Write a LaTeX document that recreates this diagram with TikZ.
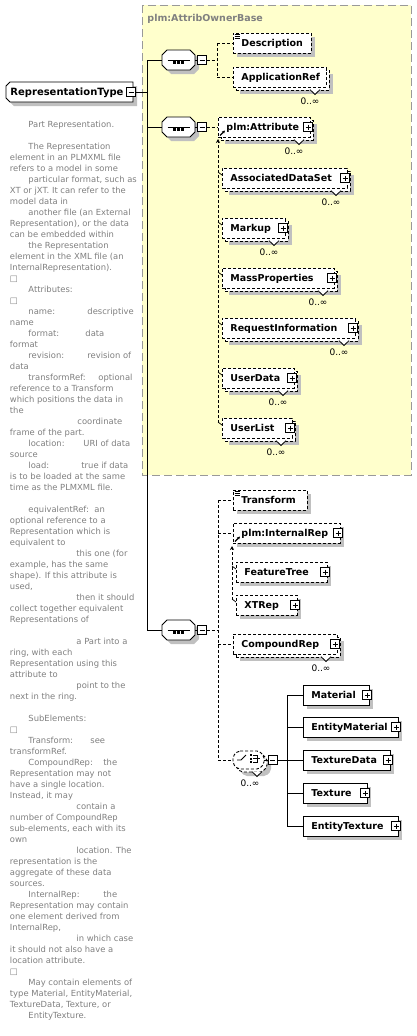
\documentclass[tikz,border=0pt]{standalone}
\usepackage{fontspec}
\newfontfamily\dv{DejaVu Sans}
\usetikzlibrary{shadows,arrows.meta}
\definecolor{yfill}{HTML}{FFFFCC}
\definecolor{yborder}{HTML}{999999}
\definecolor{shadowc}{HTML}{C0C0C0}
\definecolor{desccol}{HTML}{808080}
\tikzset{
 sh/.style={drop shadow={shadow xshift=4pt,shadow yshift=-4pt,fill=shadowc,draw=none,opacity=1}},
 boxbase/.style={rectangle,fill=white,inner sep=0pt,outer sep=0pt,minimum height=20pt,line width=0.9pt},
 elsolid/.style={boxbase,draw=black},
 eldash/.style={boxbase,draw=black,dash pattern=on 3pt off 2pt},
 dl/.style={dash pattern=on 3pt off 2pt},
 eltext/.style={font=\dv\bfseries\fontsize{9.5}{10}\selectfont,inner sep=0pt,anchor=base west},
 mult/.style={font=\dv\fontsize{9}{10}\selectfont,inner sep=0pt},
 desc/.style={font=\dv\fontsize{8.4}{9}\selectfont,text=desccol,anchor=base west,inner sep=0pt},
 minusbox/.style={draw,fill=white,minimum size=9pt,inner sep=0pt,outer sep=0pt,line width=0.8pt,
   path picture={\draw[line width=0.8pt] ([xshift=2pt]path picture bounding box.west) -- ([xshift=-2pt]path picture bounding box.east);}},
 plusbox/.style={draw,fill=white,minimum size=9pt,inner sep=0pt,outer sep=0pt,line width=0.8pt,
   path picture={\draw[line width=0.8pt] ([xshift=2pt]path picture bounding box.west) -- ([xshift=-2pt]path picture bounding box.east)
     ([yshift=-2pt]path picture bounding box.north) -- ([yshift=2pt]path picture bounding box.south);}},
 frame/.style={rectangle,inner sep=0pt,outer sep=0pt},
 shcanvas/.style={fill=shadowc,draw=none,transform canvas={shift={(4pt,-4pt)}}},
}
% single element: name,left,cy,right,label,style
\newcommand\el[6]{%
 \node[#6,sh,minimum width={(#4)-(#2)},anchor=west] (#1) at (#2,#3) {};
 \node[eltext] (#1-t) at ({#2+8},{#3+3.5}) {#5};}
% multiple element
\newcommand\elm[6]{%
 \node[#6,sh,minimum width={(#4)-(#2)},anchor=west] (#1-b) at ({#2+3},{#3+3}) {};
 \filldraw[fill=white,line width=0.8pt] ({#4-16},{#3+12.6}) -- ({#4-11},{#3+17.5}) -- ({#4-6},{#3+12.6});
 \node[#6,minimum width={(#4)-(#2)},anchor=west] (#1) at (#2,#3) {};
 \node[eltext] (#1-t) at ({#2+8},{#3+3.5}) {#5};
 \node[mult] (#1-n) at ({#4-16},{#3+24}) {0..∞};}
\newcommand\pl[3]{\node[plusbox] (#1) at ({#2-2},#3) {};}
\newcommand\dsc[4]{\node[desc] (#1) at (#2,{127+11*#3}) {#4};}
% octagon outline through the anchors of a frame node
\newcommand\octpath[2]{([xshift=#2]#1.north west) -- ([xshift=-#2]#1.north east) -- ([yshift=-#2]#1.north east) -- ([yshift=#2]#1.south east) -- ([xshift=-#2]#1.south east) -- ([xshift=#2]#1.south west) -- ([yshift=#2]#1.south west) -- ([yshift=-#2]#1.north west) -- cycle}
\newcommand\seqicon[1]{%
 \draw[line width=0.9pt] ([xshift=-11pt]#1.center) -- ([xshift=11pt]#1.center);
 \foreach \dx in {-4,0,4} \fill ([shift={(\dx pt-1.3pt,-1.3pt)}]#1.center) rectangle ++(2.6,2.6);}
\newcommand\seqnode[2]{% name, position
 \node[frame,minimum width=33pt,minimum height=20pt] (#1) at (#2) {};
 \fill[shcanvas] \octpath{#1}{5pt};
 \draw[fill=white,line width=0.9pt] \octpath{#1}{5pt};
 \seqicon{#1}}
\newcommand\simpleicon[2]{%
 \foreach \dy in {1.5,3.5,5.5} \draw[line width=0.6pt] ({#1+1.5},{#2+\dy}) -- ({#1+7},{#2+\dy});}
\begin{document}
\begin{tikzpicture}[x=1pt,y=-1pt,line width=0.9pt]
\fill[white] (0,0) rectangle (417,1036);
\path[use as bounding box] (0,0) rectangle (417,1036);
% base type box
\draw[fill=yfill,draw=yborder,dash pattern=on 8pt off 4pt,line width=1pt] (142,5) rectangle (411,475);
\node[font=\dv\bfseries\fontsize{9.5}{10}\selectfont,text=desccol,anchor=base west,inner sep=0pt] (base) at (147,21.5) {plm:AttribOwnerBase};

% root
\node[frame,minimum width=127pt,minimum height=20pt] (rt) at (69.5,92) {};
\fill[shcanvas] ([xshift=4pt]rt.north west) -- (rt.north east) -- (rt.south east) -- ([xshift=4pt]rt.south west) -- ([yshift=4pt]rt.south west) -- ([yshift=-4pt]rt.north west) -- cycle;
\draw[fill=white] ([xshift=4pt]rt.north west) -- (rt.north east) -- (rt.south east) -- ([xshift=4pt]rt.south west) -- ([yshift=4pt]rt.south west) -- ([yshift=-4pt]rt.north west) -- cycle;
\node[font=\dv\bfseries\fontsize{10}{11}\selectfont,anchor=base west,inner sep=0pt] (rt-t) at (10,95.8) {RepresentationType};
\node[minusbox] (rtm) at (131,92) {};

% sequences
\seqnode{s1}{178.5,60}
\node[minusbox] (s1m) at (202,60) {};
\seqnode{s2}{178.5,127}
\node[minusbox] (s2m) at (202,127) {};
\seqnode{s3}{178.5,630}
\node[minusbox] (s3m) at (202,630) {};

% seq1 children
\el{de}{233}{43}{311}{Description}{eldash}
\simpleicon{233}{33}
\elm{ar}{233}{77}{326}{ApplicationRef}{eldash}

% seq2 child and substitution group
\elm{ads}{222}{178}{347}{AssociatedDataSet}{eldash} \pl{ads-p}{347}{178}
\elm{mk}{222}{228}{285}{Markup}{eldash} \pl{mk-p}{285}{228}
\elm{mp}{222}{278}{334}{MassProperties}{eldash} \pl{mp-p}{334}{278}
\elm{ri}{222}{328}{355}{RequestInformation}{eldash} \pl{ri-p}{355}{328}
\elm{ud}{222}{378}{294}{UserData}{eldash} \pl{ud-p}{294}{378}
\elm{ul}{222}{428}{292}{UserList}{eldash} \pl{ul-p}{292}{428}
\elm{at}{218}{127}{310}{plm:Attribute}{eldash} \pl{at-p}{310}{127}
\draw[-{Stealth[length=3pt,width=3pt]},line width=1.1pt] (220,135.5) -- (225,130.5);

% seq3 children
\el{tr}{233}{500}{307}{Transform}{eldash}
\simpleicon{233}{490}
\el{ft}{236}{572}{327}{FeatureTree}{eldash} \pl{ft-p}{327}{572}
\el{xt}{236}{605}{297}{XTRep}{eldash} \pl{xt-p}{297}{605}
\el{ir}{233}{533}{340}{plm:InternalRep}{eldash} \pl{ir-p}{340}{533}
\draw[-{Stealth[length=3pt,width=3pt]},line width=1.1pt] (235,541.5) -- (240,536.5);
\elm{cr}{233}{644}{337}{CompoundRep}{eldash} \pl{cr-p}{337}{644}

% choice
\node[frame,minimum width=31pt,minimum height=18pt] (ch-b) at (251.5,763) {};
\fill[shcanvas,rounded corners=2pt] \octpath{ch-b}{5pt};
\draw[fill=white,dl,rounded corners=2pt] \octpath{ch-b}{5pt};
\filldraw[fill=white,line width=0.8pt] (252,771.6) -- (257,776.5) -- (262,771.6);
\node[frame,minimum width=31pt,minimum height=18pt] (ch) at (248.5,760) {};
\draw[fill=white,dl,rounded corners=2pt] \octpath{ch}{5pt};
\draw[line width=0.8pt] (237,760) -- (241,760) -- (246,755);
\foreach \yy in {755,758.5,762} \fill (249.5,{\yy-1}) rectangle (252,{\yy+1});
\draw[line width=0.8pt] (253,755) -- (257,755) -- (257,762) -- (253,762) (253,758.5) -- (260,758.5);
\node[mult] (ch-n) at (250,783) {0..∞};
\node[minusbox] (chm) at (272.5,760) {};

\el{ma}{303}{695}{369}{Material}{elsolid} \pl{ma-p}{369}{695}
\el{em}{303}{727}{398}{EntityMaterial}{elsolid} \pl{em-p}{398}{727}
\el{td}{303}{760}{390}{TextureData}{elsolid} \pl{td-p}{390}{760}
\el{tx}{303}{793}{367}{Texture}{elsolid} \pl{tx-p}{367}{793}
\el{et}{303}{826}{398}{EntityTexture}{elsolid} \pl{et-p}{398}{826}

% connectors
\coordinate (spine) at (147,92);
\draw (rtm.east) -- (spine);
\draw (spine |- s1.west) -- (spine |- s3.west);
\draw (spine |- s1.west) -- (s1.west);
\draw (spine |- s2.west) -- (s2.west);
\draw (spine |- s3.west) -- (s3.west);
\draw (s1.east) -- (s1m.west);
\draw (s2.east) -- (s2m.west);
\draw (s3.east) -- (s3m.west);

\coordinate (v1) at (217,60);
\draw[dl] (s1m.east) -- (v1);
\draw[dl] (v1 |- de.west) -- (v1 |- ar.west);
\draw[dl] (v1 |- de.west) -- (de.west);
\draw[dl] (v1 |- ar.west) -- (ar.west);

\draw[dl] (s2m.east) -- (at.west);
\coordinate (atA) at (218,139);
\coordinate (atE) at (218,423);
\draw[dl,-{Stealth[length=4pt,width=4pt]}] (atE) -- (atA);
\foreach \n in {ads,mk,mp,ri,ud,ul} \draw[line width=0.7pt] ([shift={(-4pt,6pt)}]\n.west) -- ([shift={(0pt,3pt)}]\n.west);

\coordinate (v3) at (218,630);
\draw[dl] (s3m.east) -- (v3);
\draw[dl] (v3 |- tr.west) -- (v3 |- ch.west);
\draw[dl] (v3 |- tr.west) -- (tr.west);
\draw[dl] (v3 |- ir.west) -- (ir.west);
\draw[dl] (v3 |- cr.west) -- (cr.west);
\draw[dl] (v3 |- ch.west) -- (ch.west);
\coordinate (irA) at (232,546);
\coordinate (irE) at (232,600);
\draw[dl,-{Stealth[length=4pt,width=4pt]}] (irE) -- (irA);
\foreach \n in {ft,xt} \draw[line width=0.7pt] ([shift={(-4pt,6pt)}]\n.west) -- ([shift={(0pt,3pt)}]\n.west);

\draw (ch.east) -- (chm.west);
\coordinate (v4) at (287,760);
\draw (chm.east) -- (v4);
\draw (v4 |- ma.west) -- (v4 |- et.west);
\foreach \n in {ma,em,td,tx,et} \draw (v4 |- \n.west) -- (\n.west);

% documentation
\dsc{d0}{28}{0}{Part Representation.}
\dsc{d2}{28}{2}{The Representation}
\dsc{d3}{9.5}{3}{element in an PLMXML file}
\dsc{d4}{9.5}{4}{refers to a model in some}
\dsc{d5}{28}{5}{particular format, such as}
\dsc{d6}{9.5}{6}{XT or jXT. It can refer to the}
\dsc{d7}{9.5}{7}{model data in}
\dsc{d8}{28}{8}{another file (an External}
\dsc{d9}{9.5}{9}{Representation), or the data}
\dsc{d10}{9.5}{10}{can be embedded within}
\dsc{d11}{28}{11}{the Representation}
\dsc{d12}{9.5}{12}{element in the XML file (an}
\dsc{d13}{9.5}{13}{InternalRepresentation).}
\dsc{d14}{9.5}{14}{□}
\dsc{d15}{28}{15}{Attributes:}
\dsc{d16}{9.5}{16}{□}
\dsc{d17}{28}{17}{name:} \dsc{d17b}{87}{17}{descriptive}
\dsc{d18}{9.5}{18}{name}
\dsc{d19}{28}{19}{format:} \dsc{d19b}{85}{19}{data}
\dsc{d20}{9.5}{20}{format}
\dsc{d21}{28}{21}{revision:} \dsc{d21b}{87}{21}{revision of}
\dsc{d22}{9.5}{22}{data}
\dsc{d23}{28}{23}{transformRef:} \dsc{d23b}{98}{23}{optional}
\dsc{d24}{9.5}{24}{reference to a Transform}
\dsc{d25}{9.5}{25}{which positions the data in}
\dsc{d26}{9.5}{26}{the}
\dsc{d27}{77}{27}{coordinate}
\dsc{d28}{9.5}{28}{frame of the part.}
\dsc{d29}{28}{29}{location:} \dsc{d29b}{83}{29}{URI of data}
\dsc{d30}{9.5}{30}{source}
\dsc{d31}{28}{31}{load:} \dsc{d31b}{81}{31}{true if data}
\dsc{d32}{9.5}{32}{is to be loaded at the same}
\dsc{d33}{9.5}{33}{time as the PLMXML file.}
\dsc{d35}{28}{35}{equivalentRef:} \dsc{d35b}{94}{35}{an}
\dsc{d36}{9.5}{36}{optional reference to a}
\dsc{d37}{9.5}{37}{Representation which is}
\dsc{d38}{9.5}{38}{equivalent to}
\dsc{d39}{76}{39}{this one (for}
\dsc{d40}{9.5}{40}{example, has the same}
\dsc{d41}{9.5}{41}{shape). If this attribute is}
\dsc{d42}{9.5}{42}{used,}
\dsc{d43}{76}{43}{then it should}
\dsc{d44}{9.5}{44}{collect together equivalent}
\dsc{d45}{9.5}{45}{Representations of}
\dsc{d47}{76}{47}{a Part into a}
\dsc{d48}{9.5}{48}{ring, with each}
\dsc{d49}{9.5}{49}{Representation using this}
\dsc{d50}{9.5}{50}{attribute to}
\dsc{d51}{76}{51}{point to the}
\dsc{d52}{9.5}{52}{next in the ring.}
\dsc{d54}{28}{54}{SubElements:}
\dsc{d55}{9.5}{55}{□}
\dsc{d56}{28}{56}{Transform:} \dsc{d56b}{90}{56}{see}
\dsc{d57}{9.5}{57}{transformRef.}
\dsc{d58}{28}{58}{CompoundRep:} \dsc{d58b}{103}{58}{the}
\dsc{d59}{9.5}{59}{Representation may not}
\dsc{d60}{9.5}{60}{have a single location.}
\dsc{d61}{9.5}{61}{Instead, it may}
\dsc{d62}{76}{62}{contain a}
\dsc{d63}{9.5}{63}{number of CompoundRep}
\dsc{d64}{9.5}{64}{sub-elements, each with its}
\dsc{d65}{9.5}{65}{own}
\dsc{d66}{76}{66}{location. The}
\dsc{d67}{9.5}{67}{representation is the}
\dsc{d68}{9.5}{68}{aggregate of these data}
\dsc{d69}{9.5}{69}{sources.}
\dsc{d70}{28}{70}{InternalRep:} \dsc{d70b}{103}{70}{the}
\dsc{d71}{9.5}{71}{Representation may contain}
\dsc{d72}{9.5}{72}{one element derived from}
\dsc{d73}{9.5}{73}{InternalRep,}
\dsc{d74}{76}{74}{in which case}
\dsc{d75}{9.5}{75}{it should not also have a}
\dsc{d76}{9.5}{76}{location attribute.}
\dsc{d77}{9.5}{77}{□}
\dsc{d78}{28}{78}{May contain elements of}
\dsc{d79}{9.5}{79}{type Material, EntityMaterial,}
\dsc{d80}{9.5}{80}{TextureData, Texture, or}
\dsc{d81}{28}{81}{EntityTexture.}
\end{tikzpicture}
\end{document}
